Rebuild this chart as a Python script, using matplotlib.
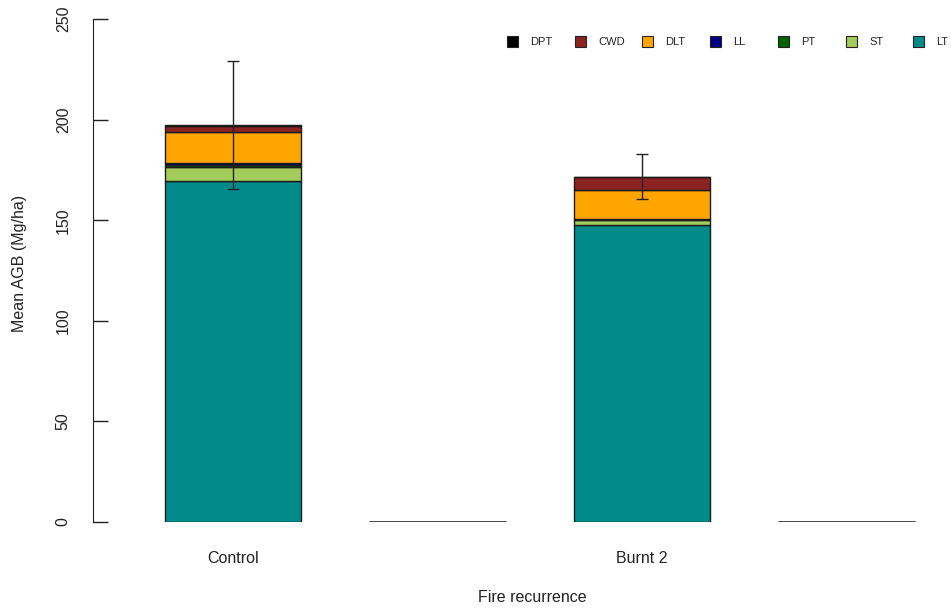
import numpy as np
import matplotlib
matplotlib.use('Agg')
from matplotlib import pyplot as plt
from matplotlib.patches import Rectangle

## Data ----------------------------------------------------------------------
groups = ['Control', '', 'Burnt 2', '']
# stacked from bottom to top
components = ['LT', 'ST', 'PT', 'LL', 'DLT', 'CWD', 'DPT']
colours = ['#008B8B', '#A2CD5A', '#006400', '#000080', '#FFA500', '#8B2323', '#000000']

LT = [169.5, 0, 147.5, 0]
ST = [6.9, 0, 2.6, 0]
PT = [1.1, 0, 0.3, 0]
LL = [0.8, 0, 0.3, 0]
DLT = [15.7, 0, 14.3, 0]
CWD = [3.0, 0, 6.6, 0]
DPT = [0.3, 0, 0.0, 0]

err_mean = [197.3, 171.6]
err_se = [31.8, 11.3]
err_groups = [0, 2]

legend_order = ['DPT', 'CWD', 'DLT', 'LL', 'PT', 'ST', 'LT']

## Plot ----------------------------------------------------------------------
plt.rcParams['font.family'] = ['Liberation Sans', 'DejaVu Sans']

W, H = 951, 609
fig = plt.figure(figsize=(W / 100, H / 100), dpi=100)
ax = fig.add_axes([93 / W, (H - 522) / H, (950 - 93) / W, (522 - 19) / H])

centers = np.array([1, 2.5, 4, 5.5])
stack = [LT, ST, PT, LL, DLT, CWD, DPT]
bottom = np.zeros(len(groups))
for vals, col in zip(stack, colours):
    vals = np.array(vals)
    ax.bar(centers, vals, width=1, bottom=bottom, color=col,
           edgecolor='#1a1a1a', linewidth=1)
    bottom = bottom + vals

ax.errorbar(centers[err_groups], err_mean, yerr=err_se, fmt='none',
            ecolor='#222222', elinewidth=1, capsize=4.5, capthick=1)

ax.set_xlim(-0.028, 6.26)
ax.set_ylim(0, 250)
ax.set_yticks([0, 50, 100, 150, 200, 250])
ax.tick_params(axis='y', direction='in', length=11, width=1, pad=16,
               labelsize=11.5, labelrotation=90, colors='#222222')
for lab in ax.get_yticklabels():
    lab.set_verticalalignment('center')
ax.set_xticks([centers[0], centers[2]])
ax.set_xticklabels([groups[0], groups[2]])
ax.tick_params(axis='x', length=0, pad=21, labelsize=11.5, colors='#222222')
for s in ['top', 'right', 'bottom']:
    ax.spines[s].set_visible(False)
ax.spines['left'].set_color('#222222')

fig.text(20 / W, 1 - 263 / H, 'Mean AGB (Mg/ha)', rotation=90,
         ha='center', va='center', fontsize=11.5, color='#222222')
fig.text(532 / W, 1 - 597 / H, 'Fire recurrence', ha='center', va='center',
         fontsize=11.5, color='#222222')

# legend across the top
leg_x = [507, 575, 642, 710, 778, 846, 913]
for name, x in zip(legend_order, leg_x):
    col = colours[components.index(name)]
    fig.patches.append(Rectangle((x / W, 1 - 47 / H), 11 / W, 11 / H,
                                 transform=fig.transFigure, facecolor=col,
                                 edgecolor='#222222', linewidth=0.8))
    fig.text((x + 23) / W, 1 - 42 / H, name, ha='left', va='center',
             fontsize=8, color='#222222')

plt.savefig('out.png', dpi=100)
